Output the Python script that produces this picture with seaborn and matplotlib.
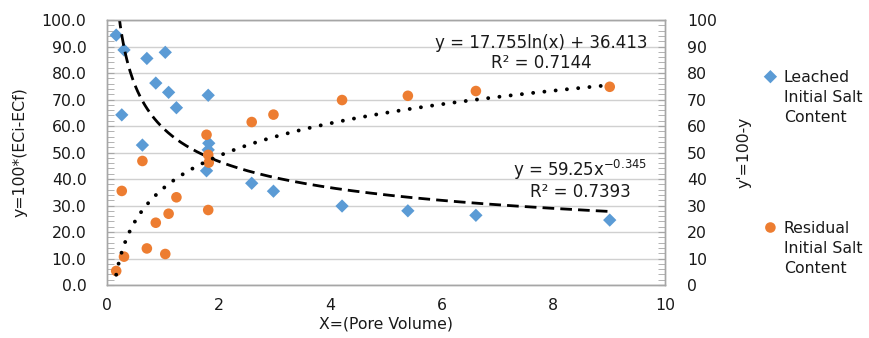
import numpy as np
import pandas as pd
import matplotlib
matplotlib.use("Agg")
import matplotlib.pyplot as plt
import seaborn as sns
from matplotlib.ticker import MultipleLocator, FormatStrFormatter

# ---------------- data ----------------
pore_volume_leached = [0.16, 0.30, 0.71, 1.04, 0.87, 1.10, 1.81, 1.24, 0.26, 0.63,
                       1.82, 1.81, 1.78, 2.59, 2.98, 4.21, 5.39, 6.61, 9.01]
leached = [94.3, 88.7, 85.5, 87.8, 76.2, 72.7, 71.6, 66.9, 64.2, 52.8,
           53.5, 51.0, 43.1, 38.4, 35.4, 29.8, 28.0, 26.3, 24.5]
pore_volume_residual = [0.16, 0.30, 0.71, 1.04, 0.87, 1.10, 1.81, 1.24, 0.26, 0.63,
                        1.82, 1.81, 1.78, 2.59, 2.98, 4.21, 5.39, 6.61, 9.01]
residual = [5.3, 10.7, 13.8, 11.7, 23.5, 26.9, 28.3, 33.1, 35.5, 46.8,
            46.2, 49.1, 56.7, 61.5, 64.3, 69.8, 71.4, 73.2, 74.8]
x_ticks = [0, 2, 4, 6, 8, 10]
left_ticks = [0, 10, 20, 30, 40, 50, 60, 70, 80, 90, 100]
right_ticks = [0, 10, 20, 30, 40, 50, 60, 70, 80, 90, 100]
series_names = ["Leached\nInitial Salt\nContent", "Residual\nInitial Salt\nContent"]
power_coef, power_exp, power_r2 = 59.25, -0.345, 0.7393
log_coef, log_const, log_r2 = 17.755, 36.413, 0.7144

BLUE = "#5B9BD5"
ORANGE = "#ED7D31"
GRID = "#D0D0D0"
SPINE = "#A6A6A6"
TXT = "#1a1a1a"

sns.set_style("white")
plt.rcParams["font.family"] = ["DejaVu Sans"]
plt.rcParams["mathtext.fontset"] = "dejavusans"
plt.rcParams["text.color"] = TXT
plt.rcParams["axes.labelcolor"] = TXT
plt.rcParams["xtick.labelcolor"] = TXT
plt.rcParams["ytick.labelcolor"] = TXT
FS = 11.3
FS_EQ = 12

fig = plt.figure(figsize=(8.7, 3.38), dpi=100)
ax = fig.add_axes([0.1233, 0.1568, 0.641, 0.784])
ax2 = ax.twinx()

df_l = pd.DataFrame({"x": pore_volume_leached, "y": leached})
df_r = pd.DataFrame({"x": pore_volume_residual, "y": residual})

# trend lines (from the displayed fit equations)
xl = np.linspace(min(pore_volume_leached), max(pore_volume_leached), 600)
trend_pow = pd.DataFrame({"x": xl, "y": power_coef * xl ** power_exp})
xr = np.linspace(min(pore_volume_residual), max(pore_volume_residual), 600)
trend_log = pd.DataFrame({"x": xr, "y": log_coef * np.log(xr) + log_const})

sns.scatterplot(data=df_l, x="x", y="y", ax=ax, marker="D", s=46, color=BLUE,
                edgecolor="none", zorder=3, legend=False)
sns.lineplot(data=trend_pow, x="x", y="y", ax=ax, color="black", lw=2.0,
             linestyle=(0, (4.2, 2.2)), zorder=4, estimator=None, sort=False)

sns.scatterplot(data=df_r, x="x", y="y", ax=ax2, marker="o", s=58, color=ORANGE,
                edgecolor="none", zorder=3, legend=False)
sns.lineplot(data=trend_log, x="x", y="y", ax=ax2, color="black", lw=2.8,
             linestyle=(0, (0.01, 2.9)), dash_capstyle="round", zorder=4,
             estimator=None, sort=False)

for a in (ax, ax2):
    a.set_xlim(0, 10)
    a.set_ylim(0, 100)
    for s in a.spines.values():
        s.set_color(SPINE)
        s.set_linewidth(1.0)

ax.set_xticks(x_ticks)
ax.xaxis.set_minor_locator(MultipleLocator(0.4))
ax.set_yticks(left_ticks)
ax.yaxis.set_minor_locator(MultipleLocator(2))
ax.yaxis.set_major_formatter(FormatStrFormatter("%.1f"))
ax2.set_yticks(right_ticks)
ax2.yaxis.set_minor_locator(MultipleLocator(2))

ax.yaxis.grid(True, color=GRID, lw=1.0)
ax.set_axisbelow(True)

ax.tick_params(axis="x", which="both", direction="in", length=5, color=SPINE,
               labelsize=FS, pad=9, top=False)
ax.tick_params(axis="y", which="both", direction="in", length=5, color=SPINE,
               labelsize=FS, pad=15)
ax2.tick_params(axis="y", which="both", direction="in", length=5, color=SPINE,
                labelsize=FS, pad=16)

ax.set_xlabel("X=(Pore Volume)", fontsize=FS, labelpad=3)
ax.set_ylabel("y=100*(ECi-ECf)", fontsize=FS, labelpad=10)
ax2.set_ylabel("y'=100-y", fontsize=FS, labelpad=14)

# equations
ax.text(0.778, 0.913, "y = 17.755ln(x) + 36.413", transform=ax.transAxes,
        ha="center", va="center", fontsize=FS_EQ, zorder=6)
ax.text(0.778, 0.838, f"R² = {log_r2:.4f}", transform=ax.transAxes,
        ha="center", va="center", fontsize=FS_EQ, zorder=6)
ax.text(0.848, 0.434, r"y = 59.25x$^{\mathregular{-0.345}}$", transform=ax.transAxes,
        ha="center", va="center", fontsize=FS_EQ, zorder=6)
ax.text(0.848, 0.351, f"R² = {power_r2:.4f}", transform=ax.transAxes,
        ha="center", va="center", fontsize=FS_EQ, zorder=6)

# legend
handles = ax.collections[:1] + ax2.collections[:1]
leg = fig.legend(handles, series_names, loc="upper left",
                 bbox_to_anchor=(0.872, 0.812), frameon=False, fontsize=FS,
                 labelspacing=6.1, handlelength=0.7, handletextpad=0.5,
                 borderaxespad=0)
for t in leg.get_texts():
    t.set_linespacing(1.42)
for col in leg._legend_handle_box.get_children():
    for entry in col.get_children():
        entry.align = "top"

fig.savefig("out.png", dpi=100)
